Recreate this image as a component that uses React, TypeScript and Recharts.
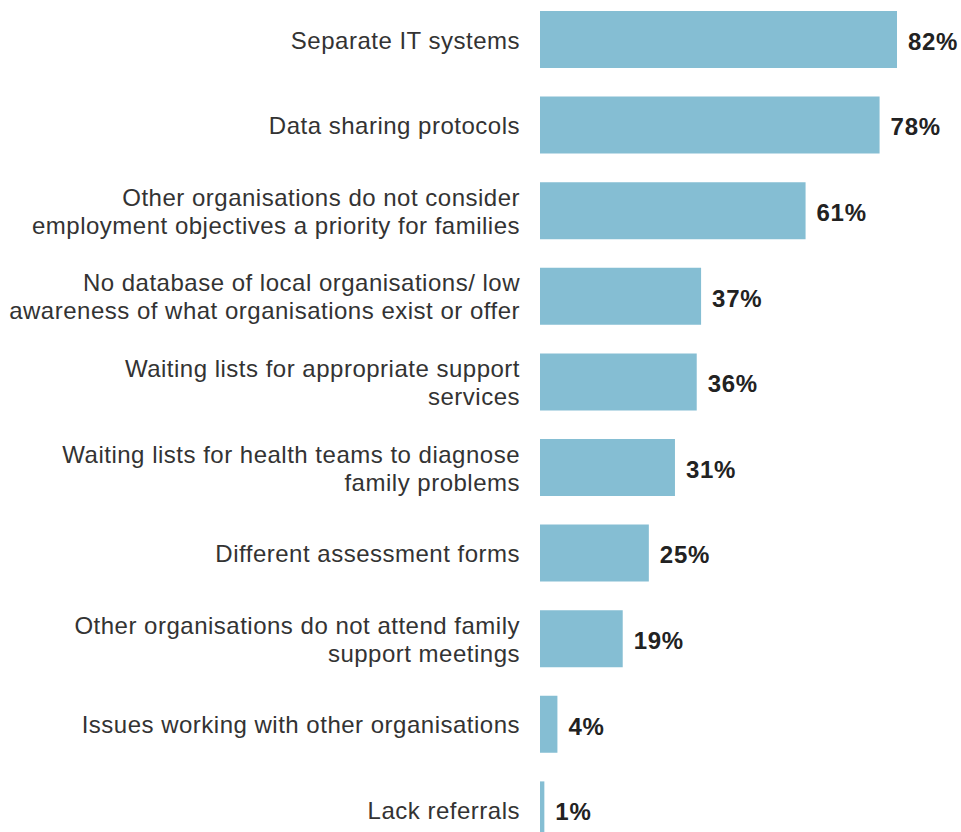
import React from "react";
import { BarChart, Bar, XAxis, YAxis, LabelList } from "recharts";

const categories: string[] = [
  "Separate IT systems",
  "Data sharing protocols",
  "Other organisations do not consider\nemployment objectives a priority for families",
  "No database of local organisations/ low\nawareness of what organisations exist or offer",
  "Waiting lists for appropriate support\nservices",
  "Waiting lists for health teams to diagnose\nfamily problems",
  "Different assessment forms",
  "Other organisations do not attend family\nsupport meetings",
  "Issues working with other organisations",
  "Lack referrals",
];

const values: number[] = [82, 78, 61, 37, 36, 31, 25, 19, 4, 1];

const data = categories.map((c, i) => ({ name: c, value: values[i] }));

const FONT = '"Liberation Sans", Arial, Helvetica, sans-serif';

const Tick = (props: any) => {
  const { x, y, payload } = props;
  const lines: string[] = String(payload.value).split("\n");
  const lh = 28;
  const startY = y - ((lines.length - 1) * lh) / 2;
  return (
    <text
      x={x}
      y={startY}
      textAnchor="end"
      fontSize={24}
      letterSpacing={0.5}
      fill="#333333"
      fontFamily={FONT}
    >
      {lines.map((l, i) => (
        <tspan key={i} x={x} dy={i === 0 ? "0.37em" : lh}>
          {l}
        </tspan>
      ))}
    </text>
  );
};

const ValueLabel = (props: any) => {
  const { x, y, width, height, value } = props;
  return (
    <text
      x={x + width + 11}
      y={y + height / 2}
      dy="0.43em"
      textAnchor="start"
      fontSize={24}
      fontWeight={700}
      letterSpacing={0.7}
      fill="#222222"
      fontFamily={FONT}
    >
      {`${value}%`}
    </text>
  );
};

export default function App() {
  return (
    <div
      style={{
        position: "absolute",
        left: 0,
        top: 0,
        width: 961,
        height: 832,
        overflow: "hidden",
        background: "#ffffff",
      }}
    >
      <div style={{ marginTop: -3 }}>
        <BarChart
          layout="vertical"
          data={data}
          width={961}
          height={856}
          margin={{ top: 0, right: 64, left: 0, bottom: 0 }}
          barCategoryGap={28.6}
        >
          <XAxis type="number" domain={[0, 82]} hide />
          <YAxis
            type="category"
            dataKey="name"
            width={540}
            axisLine={false}
            tickLine={false}
            tickSize={0}
            tickMargin={20}
            tick={<Tick />}
            interval={0}
          />
          <Bar dataKey="value" fill="#85bed3" barSize={57} isAnimationActive={false}>
            <LabelList dataKey="value" content={<ValueLabel />} />
          </Bar>
        </BarChart>
      </div>
    </div>
  );
}
